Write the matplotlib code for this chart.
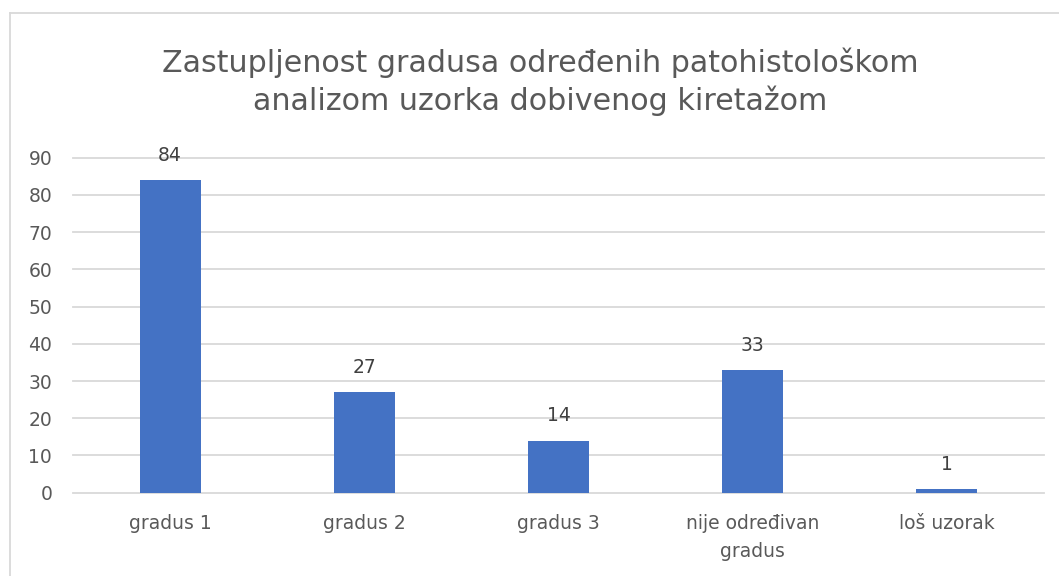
import numpy as np
import matplotlib.pyplot as plt
from matplotlib.lines import Line2D

# -------- DATA --------
categories = ["gradus 1", "gradus 2", "gradus 3", "nije određivan\ngradus", "loš uzorak"]
counts = [84, 27, 14, 33, 1]
title = "Zastupljenost gradusa određenih patohistološkom\nanalizom uzorka dobivenog kiretažom"
yticks = [0, 10, 20, 30, 40, 50, 60, 70, 80, 90]
# ----------------------

W, H = 1059, 576
TEXT = "#595959"
BAR = "#4472C4"
GRID = "#d9d9d9"

plt.rcParams["font.family"] = ["DejaVu Sans"]

fig = plt.figure(figsize=(W / 100, H / 100), dpi=100)
ax = fig.add_axes([73 / W, 1 - 492.7 / H, (1044 - 73) / W, (492.7 - 157.7) / H])

x = np.arange(len(categories))
bars = ax.bar(x, counts, width=0.314, color=BAR, zorder=3)

for xi, v in zip(x, counts):
    ax.annotate(str(v), (xi, v), xytext=(0, 11), textcoords="offset points",
                ha="center", va="bottom", fontsize=13.5, color="#404040")

ax.set_xlim(-0.5, len(categories) - 0.5)
ax.set_ylim(0, 90)
ax.set_yticks(yticks)
ax.set_xticks(x)
ax.set_xticklabels(categories, fontsize=13.5, color=TEXT, linespacing=1.65)
ax.tick_params(axis="y", labelsize=13.5, labelcolor=TEXT, length=0, pad=15)
ax.tick_params(axis="x", length=0, pad=15)
ax.yaxis.grid(True, color=GRID, linewidth=1.3, zorder=0)
for gl in ax.get_ygridlines():
    gl.set_clip_on(False)
for s in ax.spines.values():
    s.set_visible(False)

# title is centred on the chart area, which starts at x=10
fig.text(540.5 / W, 1 - 82 / H, title, ha="center", va="center", fontsize=21.7,
         color=TEXT, linespacing=1.32)

# chart area border
fig.add_artist(Line2D([10 / W, 10 / W], [0, 1 - 13 / H], transform=fig.transFigure,
                      color=GRID, linewidth=1.3))
fig.add_artist(Line2D([10 / W, 1], [1 - 13 / H, 1 - 13 / H], transform=fig.transFigure,
                      color=GRID, linewidth=1.3))

plt.savefig("out.png", dpi=100)
